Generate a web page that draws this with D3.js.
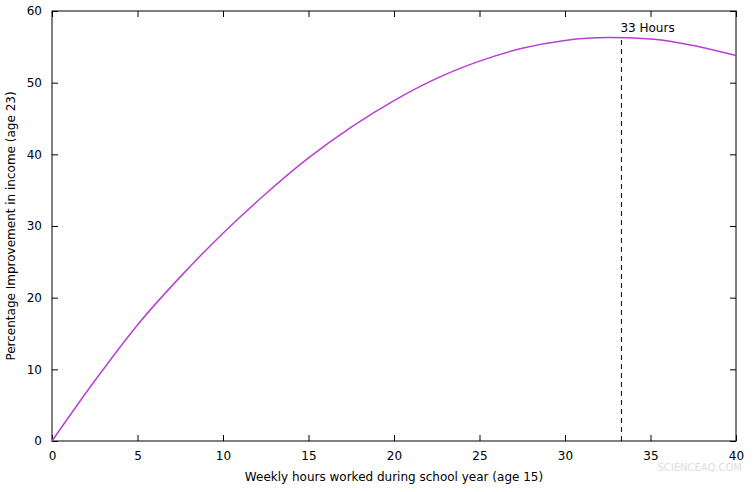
<!DOCTYPE html>
<html lang="en">
<head>
<meta charset="UTF-8">
<title>Hours vs income</title>
<style>
  body { margin: 0; background: #fff; }
  text { font-family: "DejaVu Sans", sans-serif; }
</style>
</head>
<body>
<div id="chart-container"></div>
<script src="https://d3js.org/d3.v7.min.js"></script>
<script>
  const hours = [0, 2.5, 5, 7.5, 10, 12.5, 15, 17.5, 20, 22.5, 25, 27.5, 30, 32.5, 35, 37.5, 40];
  const improvement = [0, 8.4, 16.2, 22.9, 29, 34.5, 39.5, 43.8, 47.5, 50.6, 53, 54.8, 55.9, 56.3, 56.1, 55.2, 53.8];
  const peakHours = 33.3;
  const peakLabel = "33 Hours";
  const xTicks = [0, 5, 10, 15, 20, 25, 30, 35, 40];
  const yTicks = [0, 10, 20, 30, 40, 50, 60];

  const MARGIN = {LEFT: 52, TOP: 11, RIGHT: 18, BOTTOM: 51};
  const W = 754, H = 492;
  const WIDTH = W - MARGIN.LEFT - MARGIN.RIGHT;
  const HEIGHT = H - MARGIN.TOP - MARGIN.BOTTOM;

  const svg = d3.select("#chart-container").append("svg")
    .attr("width", W).attr("height", H);
  const g = svg.append("g").attr("transform", `translate(${MARGIN.LEFT}, ${MARGIN.TOP})`);

  const x = d3.scaleLinear().domain([0, 40]).range([0, WIDTH]);
  const y = d3.scaleLinear().domain([0, 60]).range([HEIGHT, 0]);

  function styleAxis(sel) {
    sel.select(".domain").remove();
    sel.selectAll("line").attr("stroke", "#000");
    sel.selectAll("text").attr("font-size", 12).attr("fill", "#000");
  }
  g.append("g").attr("transform", `translate(0, ${HEIGHT})`)
    .call(d3.axisBottom(x).tickValues(xTicks).tickSizeInner(-6).tickSizeOuter(0).tickPadding(10))
    .call(styleAxis);
  g.append("g")
    .call(d3.axisLeft(y).tickValues(yTicks).tickSizeInner(-6).tickSizeOuter(0).tickPadding(10))
    .call(styleAxis);
  g.append("g")
    .call(d3.axisTop(x).tickValues(xTicks).tickSizeInner(-6).tickFormat(""))
    .call(styleAxis);
  g.append("g").attr("transform", `translate(${WIDTH}, 0)`)
    .call(d3.axisRight(y).tickValues(yTicks).tickSizeInner(-6).tickFormat(""))
    .call(styleAxis);

  g.append("rect").attr("width", WIDTH).attr("height", HEIGHT)
    .attr("fill", "none").attr("stroke", "#000");

  g.append("path").datum(hours.map((h, i) => [h, improvement[i]]))
    .attr("fill", "none").attr("stroke", "#b83fd1").attr("stroke-width", 1.5)
    .attr("d", d3.line().x(d => x(d[0])).y(d => y(d[1])).curve(d3.curveMonotoneX));

  const peakY = improvement[hours.indexOf(32.5)];
  g.append("line")
    .attr("x1", x(peakHours)).attr("x2", x(peakHours))
    .attr("y1", y(0)).attr("y2", y(peakY))
    .attr("stroke", "#000").attr("stroke-dasharray", "5,4");
  g.append("text").attr("x", x(peakHours) - 1).attr("y", y(peakY) - 6)
    .attr("font-size", 12).text(peakLabel);

  svg.append("text").attr("x", MARGIN.LEFT + WIDTH / 2).attr("y", H - 11)
    .attr("text-anchor", "middle").attr("font-size", 12)
    .text("Weekly hours worked during school year (age 15)");
  svg.append("text")
    .attr("transform", `translate(15, ${MARGIN.TOP + HEIGHT / 2}) rotate(-90)`)
    .attr("text-anchor", "middle").attr("font-size", 12)
    .text("Percentage Improvement in income (age 23)");
  svg.append("text").attr("x", 742).attr("y", 471)
    .attr("text-anchor", "end").attr("font-size", 10).attr("fill", "#ddd")
    .text("SCIENCEAQ.COM");
</script>
</body>
</html>
